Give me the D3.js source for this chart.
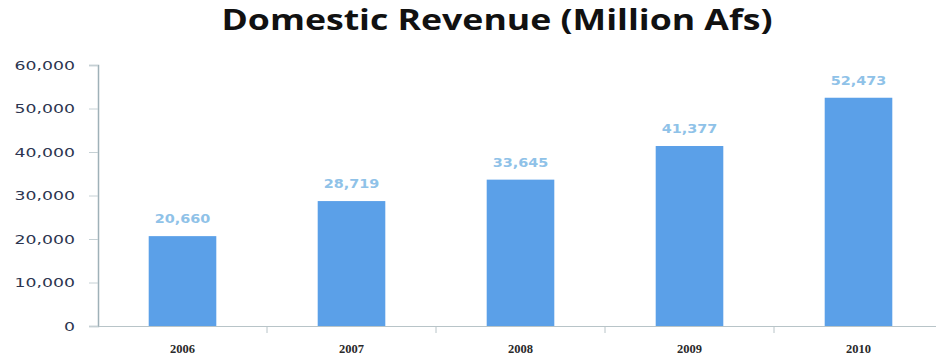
<!DOCTYPE html>
<html><head><meta charset="utf-8">
<script src="https://cdn.jsdelivr.net/npm/d3@7"></script>
<style>body{margin:0;background:#fff}</style>
</head><body>
<svg id="c" width="936" height="363"></svg>
<script>
const title = "Domestic Revenue (Million Afs)";
const years = ["2006","2007","2008","2009","2010"];
const revenue = [20660, 28719, 33645, 41377, 52473];
const yTicks = [0,10000,20000,30000,40000,50000,60000];

const svg = d3.select("#c");
const fmt = d3.format(",");
const x = d3.scaleBand().domain(years).range([98, 943]).paddingInner(0.6).paddingOuter(0.3);
const y = d3.scaleLinear().domain([0, 60000]).range([326, 65]);

// title
svg.append("text").attr("x", 497).attr("y", 30).attr("text-anchor","middle")
  .attr("font-family","'Open Sans', sans-serif").attr("font-weight","bold")
  .attr("font-size", 28).attr("fill","#111")
  .attr("textLength", 551).attr("lengthAdjust","spacingAndGlyphs").text(title);

// y axis
const ya = svg.append("g").attr("transform","translate(98,0)")
  .call(d3.axisLeft(y).tickValues(yTicks).tickFormat(fmt).tickSize(9).tickPadding(14));
ya.select(".domain").attr("stroke","#9fb1b8").attr("stroke-width",1.5);
ya.selectAll(".tick line").attr("stroke","#c5d0d4");
ya.selectAll(".tick text").attr("font-family","'DejaVu Sans', sans-serif")
  .attr("font-size",12.5).attr("fill","#2c3550").attr("x",-23)
  .each(function(){ const w=this.getComputedTextLength(); d3.select(this).attr("textLength", w*1.38).attr("lengthAdjust","spacingAndGlyphs"); });

// x axis
const xa = svg.append("g").attr("transform","translate(0,326)")
  .call(d3.axisBottom(x).tickSize(0).tickPadding(18));
xa.select(".domain").attr("stroke","#b8c4c8").attr("stroke-width",1.2);
xa.selectAll(".tick text").attr("font-family","'Liberation Serif', serif").attr("font-weight","bold")
  .attr("font-size",12.5).attr("fill","#2a2a2a");
// category boundary ticks
const bounds = years.slice(1).map(d => x(d) - x.step()*x.paddingInner()/2);
svg.append("g").selectAll("line").data(bounds).join("line")
  .attr("x1", d=>d).attr("x2", d=>d).attr("y1",326).attr("y2",333)
  .attr("stroke","#b8c4c8");

// bars
svg.append("g").selectAll("rect").data(revenue).join("rect")
  .attr("x",(d,i)=>x(years[i])).attr("width",x.bandwidth())
  .attr("y",d=>y(d)).attr("height",d=>y(0)-y(d)).attr("fill","#5ba0e8");

// value labels
svg.append("g").selectAll("text").data(revenue).join("text")
  .attr("x",(d,i)=>x(years[i])+x.bandwidth()/2).attr("y",d=>y(d)-13)
  .attr("text-anchor","middle").attr("font-family","'DejaVu Sans', sans-serif")
  .attr("font-weight","bold").attr("font-size",12).attr("fill","#8fc2e8")
  .text(d=>fmt(d))
  .each(function(){ const w=this.getComputedTextLength(); d3.select(this).attr("textLength", w*1.2).attr("lengthAdjust","spacingAndGlyphs"); });
</script>
</body></html>
